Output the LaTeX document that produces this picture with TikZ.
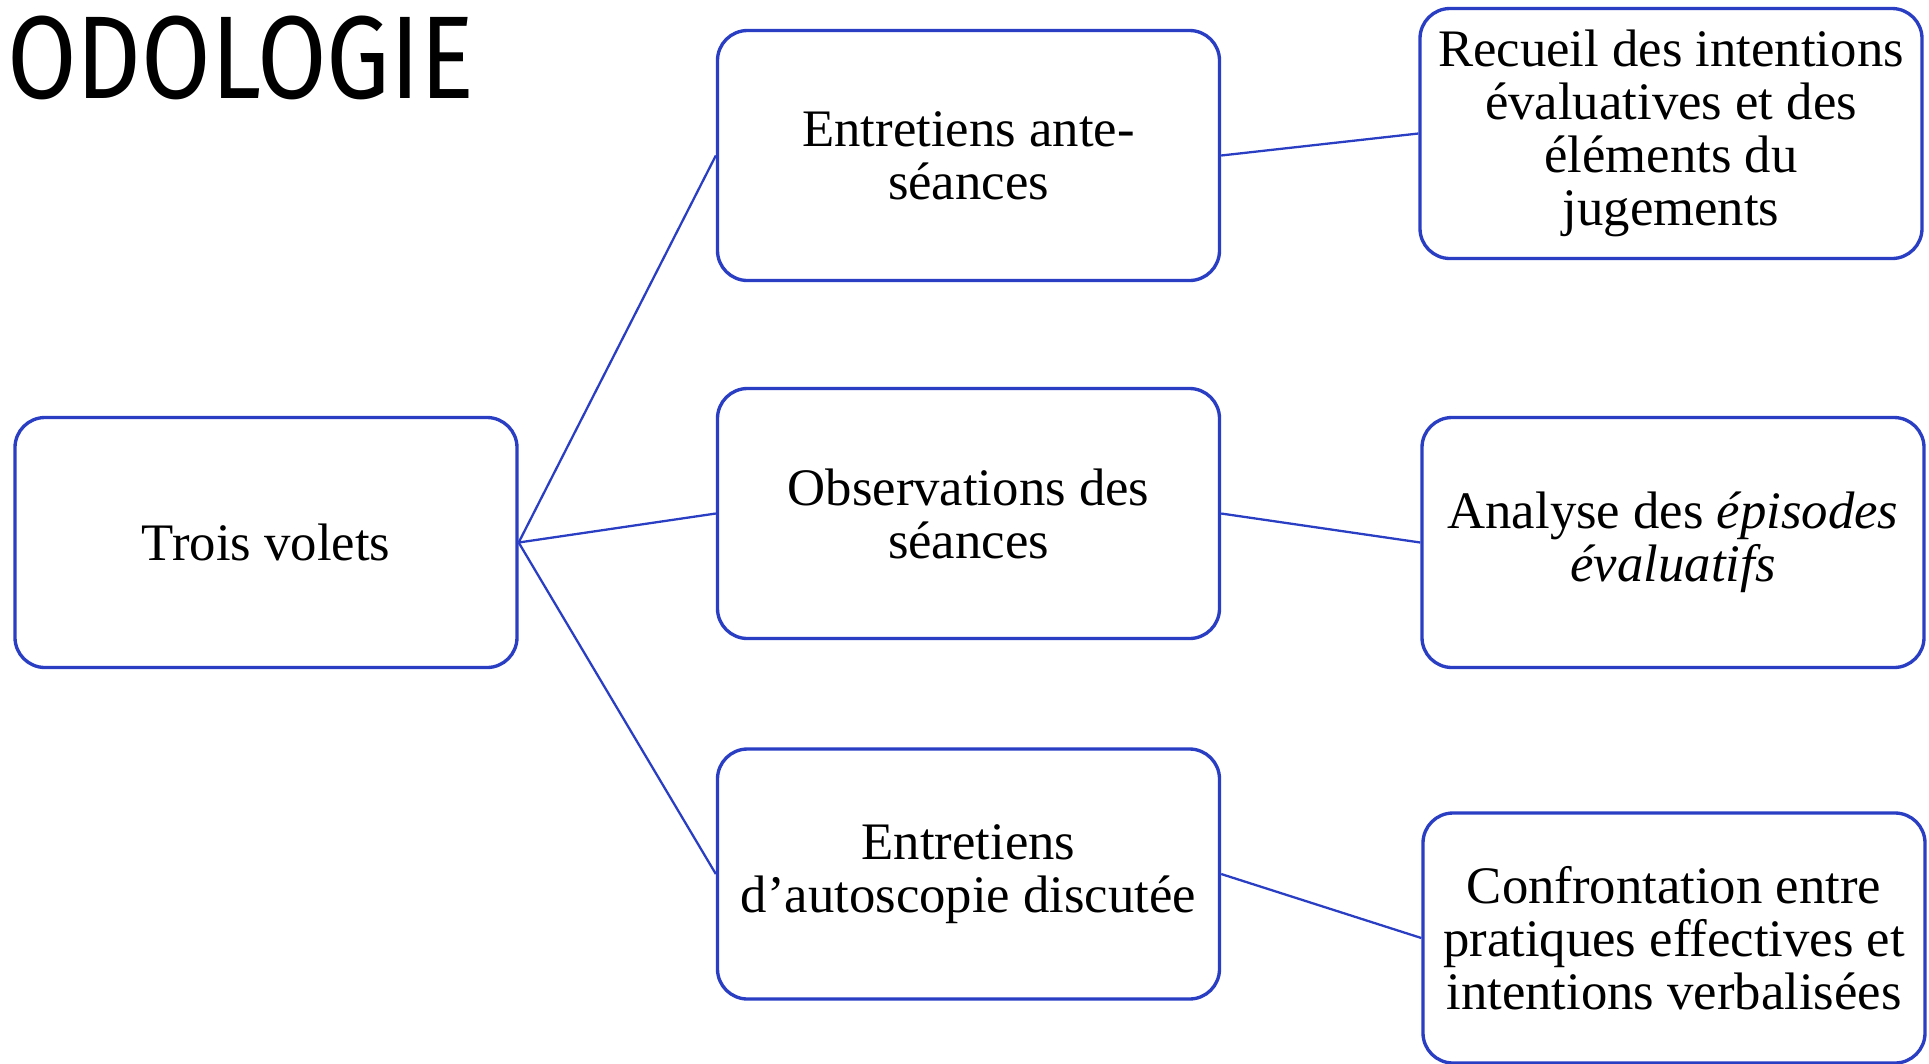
\documentclass[tikz,border=0pt]{standalone}
\usepackage{fontspec}
\setmainfont{Liberation Serif}
\newfontfamily\titlefont{Fira Sans}
\usetikzlibrary{calc}
\definecolor{boxblue}{RGB}{42,62,196}

\begin{document}
\begin{tikzpicture}
        \useasboundingbox (0,0) rectangle (38.58,-21.26);
        \node[anchor=base west, inner sep=0pt, xscale=0.855, transform shape] (titre) at (0.14,-1.96)
            {\fontsize{67}{67}\selectfont\titlefont ODOLOGIE};

        \begin{scope}[every node/.style={draw=boxblue, line width=1.9pt, fill=white,
                rounded corners=0.6cm, minimum width=10.04cm, minimum height=5cm,
                align=center, font=\fontsize{30}{30.2}\selectfont}]
            \node (volets)   at (5.32,-10.85)  {Trois volets};
            \node (ante)     at (19.37,-3.11)  {Entretiens ante-\\séances};
            \node (obs)      at (19.37,-10.27) {Observations des\\séances};
            \node (auto)     at (19.37,-17.48) {Entretiens\\d’autoscopie discutée};
            \node (recueil)  at (33.42,-2.67)  {Recueil des intentions\\évaluatives et des\\éléments du\\jugements};
            \node (analyse)  at (33.46,-10.85) {Analyse des \textit{épisodes}\\\textit{évaluatifs}};
            \node (confront) at (33.48,-18.76) {Confrontation entre\\pratiques effectives et\\intentions verbalisées};
        \end{scope}

        \begin{scope}[every path/.style={draw=boxblue, line width=1.3pt}]
            \path (volets.east) -- (ante.west);
            \path (volets.east) -- (obs.west);
            \path (volets.east) -- (auto.west);
            \path (ante.east)   -- (recueil.west);
            \path (obs.east)    -- (analyse.west);
            \path (auto.east)   -- (confront.west);
        \end{scope}
    \end{tikzpicture}
\end{document}
